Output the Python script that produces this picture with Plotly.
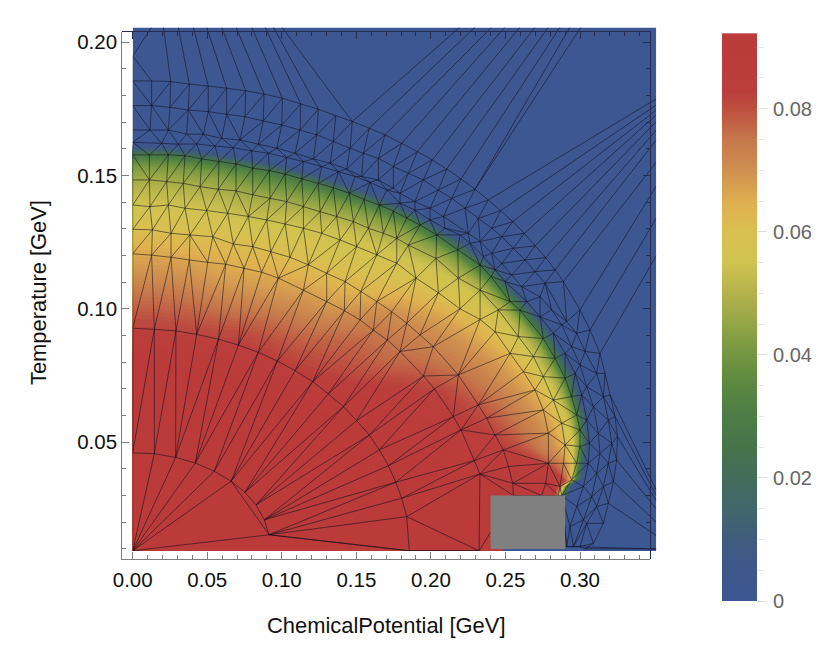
import numpy as np
import plotly.graph_objects as go
from plotly.colors import sample_colorscale

W, H = 830, 667
# ---------- field (energies in MeV, values in 1e-3) ----------
RIM_MU = [0, 25, 58, 92, 125, 155, 184, 218, 240, 260, 275.4, 290, 297.8, 300, 297.8, 294.4, 287.7, 285.5, 250, 238]
RIM_T = [158, 157.6, 155.2, 151.8, 147, 141, 134, 122, 112, 99.5, 89, 74, 60.2, 51, 42.1, 35.9, 33.4, 29.5, 22, 9.3]
FRAC = [.001, .45, .55, .6, .65, .7, .75, .8, .85, .88, .91, .94, .97, .985, 1.0, 1.012, 1.025, 1.04]
Z_TABLE = [
 [91.5,91,83,79,75,70,66,61.5,57,54.5,51,47,41,35,26,12,2,0],
 [91.5,91,83,79,75,70,66,61.5,57,54.5,51,47,41,35,26,12,2,0],
 [91.5,91,83,79,75,70,66,61.5,57,54.5,51,47,41,35,26,12,2,0],
 [91.5,91,83,79,74,68.5,65,62,56.5,53,49.5,45,38,34,26,12,2,0],
 [91.5,91,84,80,75,69.5,65.5,61.5,58,55,52,47,40,34,26,12,2,0],
 [91.5,91,84,80,76,71,66.5,62,58,56,54,49,42,36,27,13,3,0],
 [91.5,91,83.5,80,76.5,72,67,63,59,57,55,50,43,37,28,14,3,0],
 [91.5,91,85,81.5,79,77,73.5,70,63.5,60.5,57.5,53.5,45,40,29,16,4,0],
 [91.5,91,87,84,80,77,75,72,67.5,64,59.5,56.5,48,40,29,16,4,0],
 [91.5,91.5,89,87,85,81.5,78,74,70.5,67,63,58.5,51,43,30,15,3,0],
 [91.5,91.5,90,88,86,84,82,77,72.5,69.5,65,59.5,51,44,31,15,3,0],
 [91.5,91.5,90.5,90,88,86,84,81,75.5,72,68,63,53,45,31,15,3,0],
 [91.5,91.5,91,90.5,89,88,86,84.5,79,75,72,67,58.5,50,34,15,2,0],
 [91.5,91.5,91,91,90,89,88,87,84,80.5,75,70,62,55,38,15,2,0],
 [91.5,91.5,91.5,91,91,90.5,90,89,87.5,86,85,83,73,65,42,15,2,0],
 [91.5,91.5,91.5,91.5,91,91,91,90,89,88.5,88,87,85,82,60,25,6,0],
 [91.5,91.5,91.5,91.5,91.5,91,91,91,90,90,89.5,89,88,85,72,30,8,0],
 [91.5,91.5,91.5,91.5,91.5,91.5,91.5,91,91,91,91,90.5,90,88,62,20,4,0],
 [91.5,91.5,91.5,91.5,91.5,91.5,91.5,91.5,91.5,91.5,91.5,91.5,91.5,91.5,91.5,91.5,91.5,91.5],
 [91.5,91.5,91.5,91.5,91.5,91.5,91.5,91.5,91.5,91.5,91.5,91.5,91.5,91.5,91.5,91.5,91.5,91.5],
]
CENTER_T = 9.3

# ---------- mesh vertices (mu, T in MeV) ----------
ARC_46 = [(0,46),(14.5,45.7),(28.8,44.3),(42,42.2),(54.7,39.1),(66,35.4),(75.3,31.2),(82.7,26.5),(88.3,20.9),(91.4,15.3)]
ARC_M2 = [(0,92.7),(14.5,92.3),(29,91.7),(42.9,90.4),(57.5,88.6),(70.9,86.4),(84.3,83.7),(97,80.4),(108.9,76.8),(120.7,72.7),(131.2,68.1),(141.3,63.3),(150.2,58.1),(158.7,52.7),(165.4,47.1),(171.5,41.2),(176.4,35),(180.4,29),(183.8,22.1),(185.5,9.3)]
ARC_M3 = [(0,120.6),(12.7,120.1),(25.7,119.3),(38,118.3),(50.3,117.4),(62.4,116.7),(74.7,115.2),(86.5,113.7),(97.7,111.5),(114.5,107),(130.1,102.7),(142,99.3),(152.5,95.8),(161.4,92),(170.8,88.3),(179.3,84),(195,74.8),(202.3,70),(215.1,59.6),(220.2,54.6),(229.1,43.1),(232.9,38.1),(232.3,9.3)]
ARC_M4 = [(0,129.8),(13.2,129.6),(25.7,128.3),(38.4,127.7),(53.7,127),(67.5,124.3),(80.5,123.3),(92.6,121.4),(105.5,119.3),(117.8,116.5),(130.1,113.3),(142.4,110.2),(153,106.5),(163.7,102.7),(173.7,98.9),(183.8,94.6),(192.7,90.2),(201.6,85.8),(218.4,75.2),(231.8,64),(237.4,59),(243,52.7),(248.6,47.1),(252,40.9),(254.9,34.6),(255.3,30)]
ARC_M5 = [(0,138.9),(11.6,138.3),(23.9,138.9),(35.1,137.7),(49.6,136.8),(63.7,135.8),(77.6,134.6),(89.9,133.3),(102.2,131.8),(114.5,130.2),(126.8,128.3),(139.1,125.8),(150.2,123.3),(163.7,120.2),(177.1,117.1),(190,111.5),(205,106),(219.5,100),(233,96),(243,91.4),(253.1,83.3),(262,76.4),(269.8,69.6),(275.4,62.1),(278.8,53.4),(278.8,42.1),(277,34.6),(274.3,30)]
ARC_M6 = [(0,148.3),(11.2,148.3),(22.8,147.7),(33.9,147),(45.2,145.8),(57.4,144.8),(69.3,144.2),(80.5,142.7),(92.1,141.4),(103.3,140.2),(114.5,138.3),(125.7,136.4),(136.8,134.6),(148,132.7),(158.1,130.2),(168.1,128.3),(177.1,126.4),(184.9,123.9),(203.4,118.9),(218.4,111.5),(233,107),(245.2,99.6),(258.7,89.6),(268.7,82.1),(275.4,74.6),(282.1,65.8),(287.7,57.1),(290,49),(288.9,42.1),(286.6,33.4),(285.5,30)]
ARC_RIM = [(0,157.7),(11.2,157.7),(23.9,157.7),(35.1,157.4),(46.3,156.2),(57.9,155.2),(69.3,154.3),(80.5,152.7),(91.7,151.8),(102.2,150.5),(113.4,148.7),(124.5,147),(134.6,145.4),(145.3,143.3),(155.2,141),(165.4,138.9),(174.8,136.7),(183.8,134),(192.7,131.4),(203.9,127.7),(218,122.1),(233,116.4),(240.3,112.1),(253.1,102.7),(259.8,99.5),(275.4,88.9),(283.3,81.4),(290,74),(294.4,67.1),(297.8,60.2),(300,54.6),(300,48.4),(297.8,42.1),(294.4,35.9),(287.7,30)]
ARC_M8 = [(0,162.4),(19.4,162),(30.6,161.7),(42.9,161.8),(55.2,161),(67.5,160.4),(79.8,159.2),(91,158.3),(103.3,156.7),(114.5,155.2),(126.8,153.3),(138,151.4),(149.1,149.6),(159.2,147.4),(170.4,144.5),(179.3,139.6),(189.3,137),(199.4,133.3),(209.5,130.2),(219.5,127.7),(226.2,124.6),(235.2,119.6),(243,114.6),(249.7,110.2),(264.3,102.7),(273.2,97),(282.2,90.8),(290,83.3),(296.7,75.8),(301.2,67.7),(304.5,58.3),(306.3,49.6),(305.6,42.1),(302.3,33.4),(297.8,25.9),(293.3,18.4),(291.1,10.9)]
ARC_M9 = [(0,167),(11.6,167),(23.9,167),(36.2,165.5),(47.4,165.4),(59.7,163.9),(72,163.3),(84.3,161.7),(96.6,160.2),(108.9,158.3),(121.2,156.2),(132.4,154.6),(143.5,152.4),(153.6,149.6),(164.8,148.3),(174.8,145.2),(179.3,143.3),(189.3,140.2),(199.4,137.7),(208.4,134.6),(225.1,128.3),(233,125.2),(240.8,120.8),(247.5,117),(254.2,112.7),(260.9,108.3),(273.2,104.5),(281,99.6),(287.7,94),(294.4,85.8),(300,79),(304.5,70.8),(309,63.3),(312.3,53.3),(313.4,45.8),(311.2,38.3),(307.9,29.6),(302.3,20.9),(295.6,10.9)]
ARC_M10 = [(0,176.2),(12.7,176.2),(25,175.5),(37.3,174.5),(50.7,173.9),(63,172.9),(75.3,172),(87.6,170.4),(100,168.9),(112.2,167),(123.4,165.2),(134.6,162.7),(145.8,160.2),(154.7,158.3),(164.8,156.4),(174.8,153.3),(184.9,150.8),(194.9,148.3),(205,144.5),(214,141.4),(222.9,137.7),(231.8,133.9),(240.8,130.2),(247.5,127),(255.3,122.7),(263.1,118.3),(269.9,113.9),(276.6,109.6),(291.1,95.2),(297.8,90.8),(303.4,84),(311.2,75.8),(315.7,67),(319,58.3),(321.3,49.6),(319,42.1),(315.7,33.4),(311.2,25.9),(304.5,19.6),(300,10.9)]
ARC_M11 = [(0,185.4),(12.7,185.4),(25.5,185.2),(38,184.2),(50.7,183.5),(63,182.7),(75.8,181.7),(88.1,180.5),(100.4,178.9),(112.7,176.8),(124.5,174.8),(136.2,172.4),(147.3,170.2),(158.7,167.7),(169.2,165.2),(180.4,162),(190.9,158.9),(201,155.8),(210.6,152.4),(220.2,148.7),(229.6,144.8),(238.5,140.8),(246.8,136.8),(254.9,132.7),(262.7,128.3),(269.9,123.6),(277,119.2),(283.3,114.6),(288.9,110.2),(300,99.6),(306.7,92.1),(313.4,83.3),(316.8,75.8),(320.2,67.7),(323.5,59.6),(325.1,52.1),(324.6,43.3),(322.4,35.2),(319,27.1),(315.7,19.6),(309,12.1),(303.4,10)]
# fans: outer-arc vertex -> point on the data boundary
FAN_TOP_MU = [12.7,20.6,30.6,40.7,49.6,59.7,69.3,79.8,88.8,94.3,100,219.5,229.6,240.8,249.7,259.8,269.9,278.8,286.6,293.3,300.7]
FAN_TOP_SRC = [(0,194.7),(25.5,185.2),(38,184.2),(50.7,183.5),(63,182.7),(75.8,181.7),(88.1,180.5),(100.4,178.9),(112.7,176.8),(124.5,174.8),(147.3,170.2),(147.3,170.2),(158.7,167.7),(169.2,165.2),(180.4,162),(190.9,158.9),(201,155.8),(210.6,152.4),(220.2,148.7),(229.6,144.8),(229.6,144.8)]
FAN_RIGHT_T = [178.7,176.4,174.5,172.7,170.2,167,163.3,155,146,134,120,32,30,28,25,20,15,10]
FAN_RIGHT_SRC = [(238.5,140.8),(246.8,136.8),(254.9,132.7),(262.7,128.3),(269.9,123.6),(277,119.2),(283.3,114.6),(288.9,110.2),(300,99.6),(306.7,92.1),(313.4,83.3),(320.2,67.7),(323.5,59.6),(325.1,52.1),(324.6,43.3),(322.4,35.2),(319,27.1),(303.4,10)]
SINGLE_SEGS = [((0,194.7),(0,185.4)),((0,194.7),(12.7,185.4)),((0,9.3),(91.4,15.3)),((91.4,15.3),(185.5,9.3)),((185.5,9.3),(232.3,9.3)),((0,46),(0,92.7)),((287.7,30),(291.1,10.9)),((66,35.4),(91.4,15.3)),((291.1,10.9),(351.2,10))]
BOX_MU = [240, 290]
BOX_T = [10, 30]
CB_TICKS = [0, .02, .04, .06, .08]
CB_LABELS = ["0", "0.02", "0.04", "0.06", "0.08"]
SCALE_VALS = [0,5,10,15,20,25,30,35,40,45,50,55,60,63,65,70,75,80,83,92.3]
SCALE_COLS = ["#3D5793","#3E588C","#3F5C7D","#42676C","#446C5C","#46744B","#4C7D46","#5A8741","#739641","#94A546","#B4B24B","#D0C350","#D8C050","#DEB750","#DEAF50","#D09150","#C6784B","#BE5041","#BB3E3C","#BB3A3A"]

zmax = SCALE_VALS[-1]
cscale = [[v / zmax, c] for v, c in zip(SCALE_VALS, SCALE_COLS)]

def dom_x(a, b):
    return [a / W, b / W]
def dom_y(top, bottom):
    return [1 - bottom / H, 1 - top / H]

def stitch(A, B):
    """triangle strip between two vertex chains"""
    segs = []
    def d(p, q):
        return np.hypot((p[0] - q[0]) * 1491, (p[1] - q[1]) * 2668)
    i = j = 0
    segs.append((A[0], B[0]))
    while i < len(A) - 1 or j < len(B) - 1:
        if j == len(B) - 1 or (i < len(A) - 1 and d(A[i + 1], B[j]) <= d(A[i], B[j + 1])):
            i += 1
        else:
            j += 1
        segs.append((A[i], B[j]))
    return segs

segs = []
chains = [ARC_46, ARC_M2, ARC_M3, ARC_M4, ARC_M5, ARC_M6, ARC_RIM, ARC_M8, ARC_M9, ARC_M10, ARC_M11]
for c in chains:
    segs += list(zip(c[:-1], c[1:]))
for a, b in zip(chains[:-1], chains[1:]):
    segs += stitch(a, b)
segs += [((0, 9.3), p) for p in ARC_46[:6]]
segs += [(s, (m, 205.6)) for s, m in zip(FAN_TOP_SRC, FAN_TOP_MU)]
segs += [(s, (351.2, t)) for s, t in zip(FAN_RIGHT_SRC, FAN_RIGHT_T)]
segs += SINGLE_SEGS
mx, my = [], []
for p, q in segs:
    mx += [p[0] / 1000, q[0] / 1000, None]
    my += [p[1] / 1000, q[1] / 1000, None]

XH = [0, (656.3 - 132.7) / 1491]
YH = [0.2 - (551 - 42) / 2668, 0.2 - (27.5 - 42) / 2668]

fig = go.Figure()
# the data domain's blue background
fig.add_trace(go.Scatter(x=[XH[0], XH[1], XH[1], XH[0], XH[0]], y=[YH[0], YH[0], YH[1], YH[1], YH[0]], mode="lines", fill="toself",
    fillcolor="#3D5793", line=dict(width=0, color="#3D5793"), hoverinfo="skip", xaxis="x", yaxis="y"))

# nested filled regions of the field, one per level, found along the rays of the table above
F = np.array(FRAC)
Z = np.array(Z_TABLE)
for L in np.arange(0.75, 91.6, 0.75):
    lx, ly = [0.0], [CENTER_T / 1000]
    for r in range(len(RIM_MU)):
        row = Z[r]
        idx = np.nonzero(row >= L)[0][-1]
        if idx == len(F) - 1:
            f = F[-1]
        else:
            f = F[idx] + (row[idx] - L) / (row[idx] - row[idx + 1]) * (F[idx + 1] - F[idx])
        lx.append(RIM_MU[r] * f / 1000)
        ly.append((CENTER_T + (RIM_T[r] - CENTER_T) * f) / 1000)
    lx.append(0.0); ly.append(CENTER_T / 1000)
    col = sample_colorscale(cscale, (L + 0.375) / zmax)[0]
    fig.add_trace(go.Scatter(x=lx, y=ly, mode="lines", fill="toself", fillcolor=col, line=dict(width=0, color=col), hoverinfo="skip", xaxis="x", yaxis="y"))

fig.add_trace(go.Scatter(x=mx, y=my, mode="lines", line=dict(color="rgba(15,15,30,0.55)", width=1), hoverinfo="skip", xaxis="x", yaxis="y"))
bx = [m / 1000 for m in (BOX_MU[0], BOX_MU[1], BOX_MU[1], BOX_MU[0], BOX_MU[0])]
by = [t / 1000 for t in (BOX_T[0], BOX_T[0], BOX_T[1], BOX_T[1], BOX_T[0])]
fig.add_trace(go.Scatter(x=bx, y=by, mode="lines", fill="toself", fillcolor="#808080", line=dict(width=0, color="#808080"), hoverinfo="skip", xaxis="x", yaxis="y"))
for i in (2, 3):
    fig.add_trace(go.Scatter(x=[None], y=[None], mode="lines", xaxis=f"x{i}", yaxis=f"y{i}", hoverinfo="skip"))
levels = np.arange(0, 92.4, 0.5) / 1000
fig.add_trace(go.Heatmap(x=[0, 1], y=levels.tolist(), z=[[v, v] for v in levels * 1000], colorscale=cscale, zmin=0, zmax=zmax,
    zsmooth="best", showscale=False, xaxis="x4", yaxis="y4", hoverinfo="skip"))

PL, PR, PT, PB = 122.3, 650, 31.7, 559
XR = [(PL - 132.7) / 1491, (PR - 132.7) / 1491]
YR = [0.2 - (PB - 42) / 2668, 0.2 - (PT - 42) / 2668]
tf = dict(family="Liberation Sans, Arial, sans-serif", size=20.5, color="#111111")
af = dict(family="Liberation Sans, Arial, sans-serif", size=21.9, color="#111111")
def frame(color, labels, side, lw=1.3):
    return dict(showgrid=False, zeroline=False, showline=True, linecolor=color, linewidth=lw, ticks="inside", ticklen=7, tickwidth=1,
                tickcolor=color, showticklabels=labels, tickformat=".2f", tickfont=tf, side=side,
                minor=dict(ticks="inside", ticklen=4, tickcolor=color, tickwidth=1, showgrid=False))
fig.update_layout(
    width=W, height=H, autosize=False, margin=dict(l=0, r=0, t=0, b=0, autoexpand=False), showlegend=False,
    paper_bgcolor="white", plot_bgcolor="rgba(0,0,0,0)",
    xaxis=dict(domain=dom_x(132.7, 656.3), range=XH, visible=False, anchor="y"),
    yaxis=dict(domain=dom_y(27.5, 551), range=YH, visible=False, anchor="x"),
    xaxis2=dict(domain=dom_x(PL, PR), range=XR, anchor="y2", tick0=0, dtick=.05, ticklabelstandoff=2, **frame("#7f7f7f", True, "bottom")),
    yaxis2=dict(domain=dom_y(PT, PB), range=YR, anchor="x2", tick0=0, dtick=.05, **frame("#7f7f7f", True, "left")),
    xaxis3=dict(domain=dom_x(PL, PR), range=XR, anchor="y3", tick0=0, dtick=.05, **frame("#262c4d", False, "top")),
    yaxis3=dict(domain=dom_y(PT, PB), range=YR, anchor="x3", tick0=0, dtick=.05, **frame("#262c4d", False, "right")),
    xaxis4=dict(domain=dom_x(722, 757), range=[0, 1], visible=False, anchor="y4"),
    yaxis4=dict(domain=dom_y(33, 601), range=[0, zmax / 1000], anchor="x4", side="right", showgrid=False, zeroline=False, showline=False,
                tickmode="array", tickvals=CB_TICKS, ticktext=CB_LABELS, ticks="outside", ticklen=9, tickcolor="#dddddd", ticklabelstandoff=2,
                tickfont=dict(family="Liberation Sans, Arial, sans-serif", size=20, color="#666666"),
                minor=dict(tickmode="array", tickvals=[v / 1000 for v in range(5, 95, 5)], ticks="outside", ticklen=6, tickcolor="#e6e6e6", showgrid=False)),
    annotations=[
        dict(text="ChemicalPotential [GeV]", x=385.5 / W, y=1 - 625 / H, xref="paper", yref="paper", showarrow=False, font=af, xanchor="center", yanchor="middle"),
        dict(text="Temperature [GeV]", x=38 / W, y=1 - 293 / H, xref="paper", yref="paper", showarrow=False, font=af, textangle=-90, xanchor="center", yanchor="middle"),
    ],
)
fig.write_html("out.html", config=dict(displayModeBar=False), post_script="document.body.style.margin='0';")
